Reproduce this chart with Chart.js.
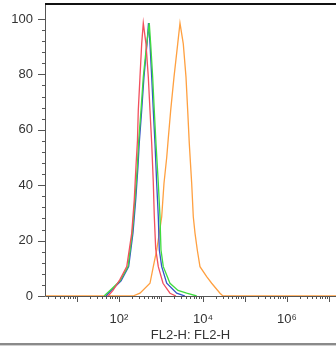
<!DOCTYPE html>
<html>
<head>
<meta charset="utf-8">
<script src="https://cdn.jsdelivr.net/npm/chart.js@4"></script>
<style>
  html, body { margin: 0; padding: 0; background: #fff; }
  #wrap { width: 336px; height: 347px; position: relative; }
</style>
</head>
<body>
<div id="wrap"><canvas id="histChart"></canvas></div>
<script>
// FL2-H intensity (x) and % of max (y) for each overlaid histogram
let redX = [55, 72, 106, 153, 201, 231, 254, 275, 288, 316, 347, 379, 439, 499, 547, 601, 656, 692, 748, 863, 1117, 1638, 2275];
let redY = [0, 2, 6, 10.6, 22.7, 34.7, 47, 56, 67, 79, 91, 98.5, 91, 79, 67, 55, 41, 29, 17, 10.6, 4.6, 1, 0];

let greenX = [44, 61, 106, 164, 207, 240, 273, 291, 334, 379, 457, 526, 568, 634, 692, 760, 863, 946, 1000, 1135, 1638, 2541, 4090, 7080];
let greenY = [0, 2, 5.5, 10.6, 22.7, 34.7, 46.7, 55, 67, 79, 91, 98.5, 91, 79, 67, 55, 40.7, 28.6, 16.6, 10.6, 4.6, 2, 1, 0];

let blueX = [49, 65, 112, 170, 215, 250, 283, 303, 347, 393, 464, 504, 547, 601, 656, 720, 790, 863, 912, 1040, 1368, 2367, 3727];
let blueY = [0, 2, 5.5, 10.6, 22.7, 34.7, 46.7, 55, 67, 79, 91, 98.5, 91, 79, 67, 55, 40.7, 28.6, 16.6, 10.6, 4.6, 1, 0];

let orangeX = [1.73, 215, 316, 547, 656, 790, 912, 1040, 1179, 1368, 1493, 1702, 2040, 2500, 2834, 3396, 3939, 4323, 4721, 5380, 5878, 6452, 7318, 8483, 12240, 16110, 25410, 29920, 1.47e7];
let orangeY = [0, 0, 1, 4.6, 10.6, 16.6, 22.7, 28.6, 40.7, 50, 57, 67, 79, 91, 98.5, 91, 79, 67, 55, 40.7, 28.6, 22.7, 16.6, 10.6, 7, 4.6, 1, 0, 0];

let xTickValues = [100, 10000, 1000000];
let xTickLabels = ['10²', '10⁴', '10⁶'];
let yTickValues = [0, 20, 40, 60, 80, 100];
let xTitle = 'FL2-H: FL2-H';

const pts = (xs, ys) => xs.map((v, i) => ({ x: v, y: ys[i] }));
const fontFam = '"Liberation Sans", Arial, sans-serif';

const framePlugin = {
  id: 'frame',
  afterDraw(chart) {
    const { ctx, scales: { x, y }, chartArea: a } = chart;
    ctx.save();
    // axis lines
    ctx.strokeStyle = '#555';
    ctx.lineWidth = 1;
    ctx.beginPath();
    ctx.moveTo(a.left + 0.5, a.top);
    ctx.lineTo(a.left + 0.5, a.bottom + 0.5);
    ctx.lineTo(a.right, a.bottom + 0.5);
    ctx.stroke();
    // x ticks, decades longer
    ctx.beginPath();
    for (let e = 0; e <= 7; e++) {
      for (let k = 1; k <= 9; k++) {
        const v = k * Math.pow(10, e);
        if (v < x.min || v > x.max) continue;
        const px = Math.round(x.getPixelForValue(v)) + 0.5;
        ctx.moveTo(px, a.bottom);
        ctx.lineTo(px, a.bottom + (k === 1 ? 6 : 3));
      }
    }
    // y ticks, every 4, majors every 20
    for (let v = 0; v <= 100; v += 4) {
      const py = Math.round(y.getPixelForValue(v)) + 0.5;
      ctx.moveTo(a.left, py);
      ctx.lineTo(a.left - (v % 20 === 0 ? 7 : 3), py);
    }
    ctx.stroke();
    // top border
    ctx.strokeStyle = '#111';
    ctx.lineWidth = 2;
    ctx.beginPath();
    ctx.moveTo(a.left, a.top);
    ctx.lineTo(a.right, a.top);
    ctx.stroke();
    // bottom frame line
    ctx.strokeStyle = '#8a8a8a';
    ctx.lineWidth = 2;
    ctx.beginPath();
    ctx.moveTo(0, a.bottom + 48);
    ctx.lineTo(chart.width, a.bottom + 48);
    ctx.stroke();
    ctx.strokeStyle = '#cfcfcf';
    ctx.lineWidth = 1;
    ctx.beginPath();
    ctx.moveTo(0, a.bottom + 49.5);
    ctx.lineTo(chart.width, a.bottom + 49.5);
    ctx.stroke();
    ctx.restore();
  }
};

const mk = (data, color) => ({
  data: data,
  borderColor: color,
  borderWidth: 1.3,
  pointRadius: 0,
  tension: 0,
  fill: false
});

new Chart(document.getElementById('histChart'), {
  type: 'line',
  data: {
    datasets: [
      mk(pts(redX, redY), '#f2505e'),
      mk(pts(greenX, greenY), '#3fdc3f'),
      mk(pts(blueX, blueY), '#3552c8'),
      mk(pts(orangeX, orangeY), '#ffa040')
    ]
  },
  options: {
    responsive: true,
    maintainAspectRatio: false,
    animation: false,
    layout: { padding: { top: 4, right: 0, left: 0, bottom: 0 } },
    plugins: { legend: { display: false }, tooltip: { enabled: false } },
    scales: {
      x: {
        type: 'logarithmic',
        min: 1.73,
        max: 1.47e7,
        border: { display: false },
        grid: { display: false, drawTicks: false },
        afterBuildTicks: s => { s.ticks = xTickValues.map(v => ({ value: v })); },
        afterFit: s => { s.height = 51; s.paddingLeft = 0; s.paddingRight = 0; },
        ticks: {
          autoSkip: false,
          maxRotation: 0,
          padding: 16,
          color: '#333',
          font: { family: fontFam, size: 13 },
          callback: v => xTickLabels[xTickValues.indexOf(v)]
        },
        title: {
          display: true,
          text: xTitle,
          color: '#333',
          font: { family: fontFam, size: 13 },
          padding: { top: 0, bottom: 4 }
        }
      },
      y: {
        min: 0,
        max: 105.4,
        border: { display: false },
        grid: { display: false, drawTicks: false },
        afterBuildTicks: s => { s.ticks = yTickValues.map(v => ({ value: v })); },
        afterFit: s => { s.width = 45; s.paddingTop = 0; s.paddingBottom = 0; },
        ticks: {
          padding: 12,
          color: '#333',
          font: { family: fontFam, size: 13 }
        }
      }
    }
  },
  plugins: [framePlugin]
});
</script>
</body>
</html>
